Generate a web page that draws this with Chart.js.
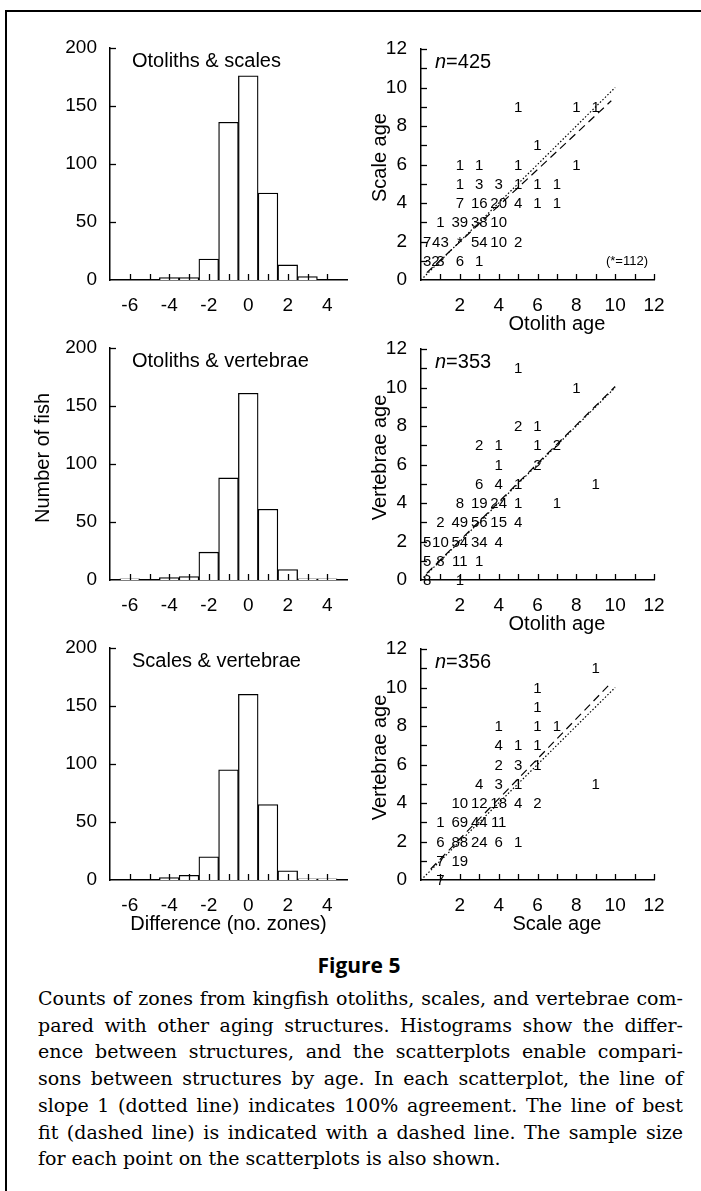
<!DOCTYPE html>
<html>
<head>
<meta charset="utf-8">
<script src="https://cdn.jsdelivr.net/npm/chart.js@4.4.0/dist/chart.umd.min.js"></script>
<style>
html, body { margin: 0; padding: 0; background: #fff; }
body { width: 701px; height: 1191px; position: relative; overflow: hidden; }
#frame { position: absolute; left: 5px; top: 10px; right: -5px; bottom: -5px; border-top: 2px solid #000; border-left: 2px solid #000; }
canvas { position: absolute; }
#figno { position: absolute; left: 0; width: 718px; top: 951px; text-align: center; font: bold 21px "Open Sans", sans-serif; line-height: 28px; }
#caption { position: absolute; left: 38px; width: 645px; top: 985px; font: 19px "DejaVu Serif", serif; line-height: 26.7px; color: #000; }
#caption div { text-align: justify; text-align-last: justify; }
#caption div.last { text-align-last: left; }
</style>
</head>
<body>
<div id="frame"></div>
<canvas id="h0" width="360" height="350" style="left:0;top:0"></canvas>
<canvas id="s0" width="351" height="350" style="left:350px;top:0"></canvas>
<canvas id="h1" width="360" height="350" style="left:0;top:300px"></canvas>
<canvas id="s1" width="351" height="350" style="left:350px;top:300px"></canvas>
<canvas id="h2" width="360" height="350" style="left:0;top:600px"></canvas>
<canvas id="s2" width="351" height="350" style="left:350px;top:600px"></canvas>
<div id="figno">Figure 5</div>
<div id="caption">
<div>Counts of zones from kingfish otoliths, scales, and vertebrae com-</div>
<div>pared with other aging structures. Histograms show the differ-</div>
<div>ence between structures, and the scatterplots enable compari-</div>
<div>sons between structures by age. In each scatterplot, the line of</div>
<div>slope 1 (dotted line) indicates 100% agreement. The line of best</div>
<div>fit (dashed line) is indicated with a dashed line. The sample size</div>
<div class="last">for each point on the scatterplots is also shown.</div>
</div>
<script>
// histogram data: difference in zones between structures
const diffBins = [-6, -5, -4, -3, -2, -1, 0, 1, 2, 3, 4];
const otoScaleCounts = [0, 0, 2, 2, 18, 136, 176, 75, 13, 3, 0];
const otoVertCounts = [1, 0, 2, 3, 24, 88, 161, 61, 9, 1, 1];
const scaleVertCounts = [0, 0, 2, 4, 20, 95, 160, 65, 8, 1, 1];
const histTitles = ["Otoliths & scales", "Otoliths & vertebrae", "Scales & vertebrae"];
const diffTicks = [-6, -4, -2, 0, 2, 4];
const countTicks = [0, 50, 100, 150, 200];

// scatter data: [x age, y age, number of fish]
const otoScaleCells = [
    [5, 9, 1], [8, 9, 1], [9, 9, 1], [6, 7, 1],
    [2, 6, 1], [3, 6, 1], [5, 6, 1], [8, 6, 1],
    [2, 5, 1], [3, 5, 3], [4, 5, 3], [5, 5, 1], [6, 5, 1], [7, 5, 1],
    [2, 4, 7], [3, 4, 16], [4, 4, 20], [5, 4, 4], [6, 4, 1], [7, 4, 1],
    [1, 3, 1], [2, 3, 39], [3, 3, 38], [4, 3, 10],
    [0, 2, 7], [1, 2, 43], [2, 2, 112], [3, 2, 54], [4, 2, 10], [5, 2, 2],
    [0, 1, 32], [1, 1, 3], [2, 1, 6], [3, 1, 1]
];
const otoVertCells = [
    [5, 11, 1], [8, 10, 1], [5, 8, 2], [6, 8, 1],
    [3, 7, 2], [4, 7, 1], [6, 7, 1], [7, 7, 2], [4, 6, 1], [6, 6, 2],
    [3, 5, 6], [4, 5, 4], [5, 5, 1], [9, 5, 1],
    [2, 4, 8], [3, 4, 19], [4, 4, 24], [5, 4, 1], [7, 4, 1],
    [1, 3, 2], [2, 3, 49], [3, 3, 56], [4, 3, 15], [5, 3, 4],
    [0, 2, 5], [1, 2, 10], [2, 2, 54], [3, 2, 34], [4, 2, 4],
    [0, 1, 5], [1, 1, 8], [2, 1, 11], [3, 1, 1],
    [0, 0, 8], [2, 0, 1]
];
const scaleVertCells = [
    [9, 11, 1], [6, 10, 1], [6, 9, 1], [4, 8, 1], [6, 8, 1], [7, 8, 1],
    [4, 7, 4], [5, 7, 1], [6, 7, 1], [4, 6, 2], [5, 6, 3], [6, 6, 1],
    [3, 5, 4], [4, 5, 3], [5, 5, 1], [9, 5, 1],
    [2, 4, 10], [3, 4, 12], [4, 4, 18], [5, 4, 4], [6, 4, 2],
    [1, 3, 1], [2, 3, 69], [3, 3, 44], [4, 3, 11],
    [1, 2, 6], [2, 2, 88], [3, 2, 24], [4, 2, 6], [5, 2, 1],
    [1, 1, 7], [2, 1, 19], [1, 0, 7]
];
const sampleSizes = [425, 353, 356];
const starValue = 112; // shown as * in the first scatterplot
const slopeOneLine = [[0, 0], [10, 10]];
const fitLines = [
    [[0.3, 0.38], [9.8, 9.31]],
    [[0.3, 0.35], [10, 10.05]],
    [[0.5, 0.57], [9.75, 10.2]]
];
const ageTicks = [0, 2, 4, 6, 8, 10, 12];
const scatterXTitles = ["Otolith age", "Otolith age", "Scale age"];
const scatterYTitles = ["Scale age", "Vertebrae age", "Vertebrae age"];

const sansFont = '"Liberation Sans", Arial, sans-serif';
Chart.defaults.font.family = sansFont;
Chart.defaults.color = "#000";

const inwardTicks = {
    id: "inwardTicks",
    afterDatasetsDraw(chart, args, opts) {
        const { ctx, chartArea: a } = chart;
        const xs = chart.scales.x, ys = chart.scales.y;
        ctx.save();
        ctx.strokeStyle = "#000";
        ctx.lineWidth = 1.3;
        xs.ticks.forEach(t => {
            if (t.value <= xs.min || (opts.skipXMax && t.value >= xs.max)) return;
            const px = Math.round(xs.getPixelForValue(t.value)) + 0.5;
            ctx.beginPath();
            ctx.moveTo(px, a.bottom);
            ctx.lineTo(px, a.bottom - opts.len);
            ctx.stroke();
        });
        ys.ticks.forEach(t => {
            if (t.value <= ys.min) return;
            const py = Math.round(ys.getPixelForValue(t.value)) + 0.5;
            ctx.beginPath();
            ctx.moveTo(a.left, py);
            ctx.lineTo(a.left + opts.len, py);
            ctx.stroke();
        });
        ctx.restore();
    }
};

const panelText = {
    id: "panelText",
    afterDraw(chart, args, o) {
        const { ctx, chartArea: a } = chart;
        const xs = chart.scales.x, ys = chart.scales.y;
        ctx.save();
        ctx.fillStyle = "#000";
        ctx.textBaseline = "middle";

        // counts written at each cell of a scatterplot
        if (o.cells) {
            ctx.font = "15px " + sansFont;
            ctx.textAlign = "left";
            const meta = chart.getDatasetMeta(0);
            meta.data.forEach((pt, i) => {
                const n = chart.data.datasets[0].data[i].n;
                const s = n === o.star ? "*" : String(n);
                const w = ctx.measureText(s).width;
                const left = Math.max(pt.x - w / 2, a.left + 2);
                ctx.fillText(s, left, pt.y + 1);
            });
        }
        if (o.header) {
            ctx.font = "20px " + sansFont;
            ctx.textAlign = "left";
            ctx.fillText(o.header, a.left + 22, a.top + 13);
        }
        if (o.n) {
            ctx.textAlign = "left";
            ctx.font = "italic 20px " + sansFont;
            ctx.fillText("n", a.left + 14, a.top + 13);
            const w = ctx.measureText("n").width;
            ctx.font = "20px " + sansFont;
            ctx.fillText("=" + o.n, a.left + 14 + w, a.top + 13);
        }
        if (o.note) {
            ctx.font = "13px " + sansFont;
            ctx.textAlign = "right";
            ctx.fillText(o.note, a.right - 6, ys.getPixelForValue(1) + 1);
        }
        ctx.font = "20px " + sansFont;
        if (o.xTitle) {
            const c = (xs.getPixelForValue(o.xSpan[0]) + xs.getPixelForValue(o.xSpan[1])) / 2;
            ctx.textAlign = "center";
            ctx.fillText(o.xTitle, c, a.bottom + 44);
        }
        if (o.yTitle) {
            ctx.translate(a.left - o.yGap, (a.top + a.bottom) / 2 - o.yShift);
            ctx.rotate(-Math.PI / 2);
            ctx.textAlign = "center";
            ctx.fillText(o.yTitle, 0, 0);
        }
        ctx.restore();
    }
};

function histogram(id, k, counts) {
    new Chart(document.getElementById(id), {
        type: "bar",
        data: {
            datasets: [{
                data: diffBins.map((b, i) => ({ x: b, y: counts[i] })),
                backgroundColor: "#fff",
                borderColor: "#000",
                borderWidth: 1.3,
                borderSkipped: "bottom",
                barPercentage: 1,
                categoryPercentage: 1
            }]
        },
        options: {
            responsive: false,
            animation: false,
            devicePixelRatio: 1,
            events: [],
            layout: { padding: { left: 0, right: 13, top: 48, bottom: 0 } },
            plugins: {
                legend: { display: false },
                tooltip: { enabled: false },
                inwardTicks: { len: 6, skipXMax: true },
                panelText: {
                    header: histTitles[k],
                    xTitle: k === 2 ? "Difference (no. zones)" : null,
                    xSpan: [diffTicks[0], diffTicks[diffTicks.length - 1]],
                    yTitle: k === 1 ? "Number of fish" : null,
                    yGap: 67,
                    yShift: 6
                }
            },
            scales: {
                x: {
                    type: "linear",
                    offset: false,
                    min: -7,
                    max: 5,
                    grid: { display: false, offset: false },
                    border: { display: true, color: "#000", width: 1.5 },
                    ticks: {
                        stepSize: 1,
                        autoSkip: false,
                        maxRotation: 0,
                        padding: 6,
                        font: { size: 19 },
                        callback: v => diffTicks.includes(v) ? String(v) : ""
                    },
                    afterFit: s => { s.height = 70; }
                },
                y: {
                    min: 0,
                    max: 200,
                    grid: { display: false },
                    border: { display: true, color: "#000", width: 1.5 },
                    ticks: {
                        stepSize: 50,
                        padding: 5,
                        font: { size: 19 },
                        callback: v => countTicks.includes(v) ? String(v) : ""
                    },
                    afterFit: s => { s.width = 110; }
                }
            }
        },
        plugins: [inwardTicks, panelText]
    });
}

function scatterplot(id, k, cells) {
    const fit = fitLines[k];
    new Chart(document.getElementById(id), {
        type: "scatter",
        data: {
            datasets: [
                {
                    data: cells.map(([x, y, n]) => ({ x, y, n })),
                    pointRadius: 0,
                    showLine: false
                },
                {
                    data: slopeOneLine.map(([x, y]) => ({ x, y })),
                    showLine: true,
                    pointRadius: 0,
                    borderColor: "#000",
                    borderWidth: 1.2,
                    borderDash: [1.5, 2]
                },
                {
                    data: fit.map(([x, y]) => ({ x, y })),
                    showLine: true,
                    pointRadius: 0,
                    borderColor: "#000",
                    borderWidth: 1.2,
                    borderDash: [8, 5]
                }
            ]
        },
        options: {
            responsive: false,
            animation: false,
            devicePixelRatio: 1,
            events: [],
            layout: { padding: { left: 0, right: 47, top: 49, bottom: 0 } },
            plugins: {
                legend: { display: false },
                tooltip: { enabled: false },
                inwardTicks: { len: 6, skipXMax: false },
                panelText: {
                    cells: true,
                    star: k === 0 ? starValue : null,
                    n: sampleSizes[k],
                    note: k === 0 ? "(*=" + starValue + ")" : null,
                    xTitle: scatterXTitles[k],
                    xSpan: [ageTicks[1], ageTicks[ageTicks.length - 1]],
                    yTitle: scatterYTitles[k],
                    yGap: 41,
                    yShift: 7
                }
            },
            scales: {
                x: {
                    type: "linear",
                    min: 0,
                    max: 12,
                    grid: { display: false },
                    border: { display: true, color: "#000", width: 1.5 },
                    ticks: {
                        stepSize: 1,
                        autoSkip: false,
                        maxRotation: 0,
                        padding: 6,
                        font: { size: 19 },
                        callback: v => (v > 0 && ageTicks.includes(v)) ? String(v) : ""
                    },
                    afterFit: s => { s.height = 70; }
                },
                y: {
                    type: "linear",
                    min: 0,
                    max: 12,
                    grid: { display: false },
                    border: { display: true, color: "#000", width: 1.5 },
                    ticks: {
                        stepSize: 1,
                        autoSkip: false,
                        padding: 6,
                        font: { size: 19 },
                        callback: v => ageTicks.includes(v) ? String(v) : ""
                    },
                    afterFit: s => { s.width = 71; }
                }
            }
        },
        plugins: [inwardTicks, panelText]
    });
}

histogram("h0", 0, otoScaleCounts);
histogram("h1", 1, otoVertCounts);
histogram("h2", 2, scaleVertCounts);
scatterplot("s0", 0, otoScaleCells);
scatterplot("s1", 1, otoVertCells);
scatterplot("s2", 2, scaleVertCells);
</script>
</body>
</html>
